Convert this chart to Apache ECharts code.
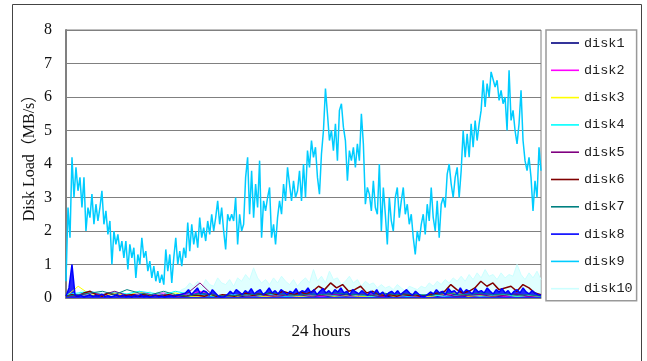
<!DOCTYPE html>
<html>
<head>
<meta charset="utf-8">
<script src="https://cdn.jsdelivr.net/npm/echarts@6/dist/echarts.min.js"></script>
<style>html,body{margin:0;padding:0;background:#fff;}#c{width:647px;height:361px;}</style>
</head>
<body>
<div id="c"></div>
<script>
var seriesNames = ['disk1','disk2','disk3','disk4','disk5','disk6','disk7','disk8','disk9','disk10'];
var yTicks = [0,1,2,3,4,5,6,7,8];

var disk9 = [0.5,2.7,1.8,4.2,3.0,3.9,3.2,3.6,2.7,3.6,2.0,2.7,2.4,3.1,2.2,2.8,2.3,2.7,3.2,2.2,
2.6,1.9,2.3,1.0,2.0,1.6,1.9,1.4,1.7,1.2,1.7,0.85,1.6,1.2,1.5,0.6,1.3,1.0,1.8,1.2,
1.4,0.8,1.1,0.6,0.95,0.5,0.8,0.45,0.7,0.4,1.45,0.8,1.3,0.45,1.2,1.8,1.0,1.4,0.95,1.5,
1.2,2.25,1.4,2.2,1.6,2.0,1.5,2.4,1.8,2.1,1.7,2.3,1.9,2.5,2.0,2.4,2.9,2.2,2.7,2.0,
1.45,2.5,2.3,2.5,2.3,3.0,1.6,2.5,2.0,2.2,3.6,4.2,2.5,3.8,2.4,3.4,2.7,4.1,1.8,2.9,
2.6,3.0,3.3,1.8,2.2,1.6,2.4,2.9,2.5,3.4,2.9,3.9,3.4,2.9,3.5,3.0,3.2,3.8,2.9,4.0,
3.0,4.4,3.9,4.7,4.2,4.5,3.6,3.1,4.3,5.0,6.25,5.5,4.7,5.0,4.4,5.2,4.1,5.6,5.8,5.1,
4.7,3.5,4.4,4.1,4.5,3.9,4.6,4.1,5.5,4.6,2.8,3.3,3.1,2.6,3.5,2.7,2.5,4.0,2.0,3.3,
2.5,1.6,3.0,2.3,2.0,3.0,3.3,2.4,2.9,3.3,2.5,2.8,2.2,2.5,1.8,1.3,2.0,1.7,2.2,2.5,
1.9,2.8,2.3,3.3,2.4,2.0,2.9,1.8,2.8,3.0,2.7,3.7,4.0,3.4,3.0,3.6,3.9,3.0,3.8,5.0,
4.2,4.9,4.2,5.2,4.5,5.3,4.7,5.2,5.6,6.5,5.7,6.4,6.0,6.75,6.8,6.3,6.5,5.9,6.2,5.8,
6.0,5.0,6.8,5.3,5.6,5.0,4.6,5.2,6.2,4.7,4.1,3.8,4.2,3.6,2.6,3.5,3.0,4.5,3.8];

var disk10 = [0.1,0.2,0.15,0.1,0.25,0.15,0.2,0.1,0.15,0.2,0.1,0.15,0.2,0.12,0.18,0.1,0.15,0.2,0.1,0.15,
0.12,0.2,0.1,0.18,0.15,0.22,0.1,0.2,0.15,0.25,
0.3,0.45,0.35,0.5,0.3,0.55,0.4,0.35,0.6,0.45,
0.4,0.55,0.35,0.6,0.5,0.7,0.55,0.9,0.6,0.45,
0.55,0.4,0.6,0.45,0.65,0.5,0.4,0.55,0.35,0.5,
0.6,0.45,0.85,0.5,0.65,0.45,0.8,0.55,0.6,0.4,
0.5,0.65,0.45,0.55,0.35,0.5,0.4,0.45,0.3,0.4,
0.3,0.35,0.25,0.4,0.3,0.2,0.35,0.3,0.25,0.35,
0.3,0.45,0.35,0.5,0.4,0.55,0.45,0.6,0.5,0.65,
0.5,0.7,0.55,0.75,0.6,0.85,0.65,0.7,0.55,0.75,
0.6,0.7,0.65,1.0,0.7,0.55,0.75,0.6,0.8,0.55];

var disk8 = [0.05,0.3,1.0,0.1,0.05,0.08,0.03,0.06,0.1,0.04,
0.08,0.05,0.12,0.04,0.07,0.03,0.06,0.1,0.05,0.08,
0.04,0.06,0.03,0.08,0.05,0.1,0.04,0.06,0.03,0.05,
0.08,0.04,0.06,0.03,0.05,0.07,0.04,0.08,0.1,0.12,
0.15,0.25,0.1,0.2,0.3,0.12,0.22,0.18,0.08,0.25,
0.15,0.05,0.03,0.04,0.1,0.2,0.12,0.25,0.18,0.1,
0.22,0.15,0.28,0.12,0.2,0.25,0.1,0.18,0.3,0.15,
0.22,0.12,0.25,0.18,0.1,0.2,0.15,0.28,0.12,0.22,
0.18,0.3,0.15,0.25,0.1,0.2,0.28,0.15,0.22,0.12,
0.25,0.18,0.3,0.15,0.2,0.1,0.25,0.18,0.12,0.22,
0.15,0.08,0.2,0.12,0.25,0.1,0.18,0.05,0.15,0.2,
0.12,0.22,0.1,0.18,0.25,0.15,0.08,0.2,0.12,0.05,
0.04,0.1,0.18,0.12,0.25,0.15,0.2,0.1,0.28,0.18,
0.22,0.12,0.3,0.15,0.25,0.2,0.12,0.28,0.18,0.22,
0.15,0.3,0.2,0.12,0.25,0.18,0.28,0.15,0.22,0.1,
0.2,0.25,0.15,0.3,0.18,0.12,0.22,0.15,0.1,0.08];

var disk6 = [0.05,0.1,0.05,0.15,0.2,0.1,0.05,0.15,0.1,0.05,0.08,0.1,0.05,0.12,0.05,0.08,0.05,0.1,0.05,0.08,
0.05,0.1,0.08,0.05,0.12,0.05,0.1,0.08,0.05,0.1,0.15,0.08,0.12,0.1,0.15,0.1,0.2,0.15,0.1,0.18,
0.12,0.2,0.35,0.25,0.45,0.3,0.4,0.2,0.25,0.35,0.15,0.2,0.1,0.08,0.1,0.05,0.12,0.08,0.1,0.05,
0.08,0.12,0.15,0.2,0.4,0.25,0.15,0.2,0.3,0.5,0.35,0.45,0.25,0.3,0.35,0.2,0.4,0.3,0.15,0.1];

var disk7 = [0.05,0.1,0.15,0.2,0.1,0.25,0.15,0.1,0.2,0.1,0.05,0.15,0.1,0.05,0.08,0.1,0.12,0.15,0.1,0.08,
0.12,0.1,0.15,0.12,0.1,0.08,0.15,0.1,0.12,0.1,0.08,0.15,0.12,0.1,0.15,0.1,0.12,0.08,0.1,0.05];
var disk5 = [0.05,0.08,0.15,0.1,0.2,0.08,0.12,0.05,0.1,0.08,0.15,0.45,0.1,0.05,0.08,0.05,0.1,0.05,0.08,0.1,
0.05,0.08,0.1,0.05,0.12,0.08,0.05,0.1,0.08,0.05,0.1,0.12,0.05,0.08,0.1,0.05,0.08,0.12,0.05,0.08];
var disk4 = [0.1,0.15,0.2,0.1,0.18,0.12,0.2,0.15,0.1,0.2,0.12,0.1,0.05,0.08,0.1,0.05,0.08,0.1,0.05,0.08,
0.05,0.1,0.08,0.05,0.1,0.05,0.08,0.1,0.05,0.08,0.1,0.05,0.08,0.1,0.05,0.08,0.1,0.05,0.08,0.05];
var disk3 = [0.05,0.35,0.1,0.05,0.15,0.05,0.2,0.05,0.1,0.15,0.05,0.05,0.08,0.05,0.05,0.1,0.05,0.05,0.08,0.05,
0.05,0.1,0.05,0.08,0.05,0.05,0.1,0.05,0.08,0.05,0.05,0.1,0.15,0.05,0.08,0.05,0.1,0.05,0.08,0.05];
var disk2 = [0.05,0.1,0.2,0.08,0.15,0.05,0.2,0.1,0.15,0.05,0.1,0.2,0.08,0.05,0.1,0.05,0.08,0.05,0.1,0.05,
0.08,0.05,0.1,0.05,0.08,0.12,0.05,0.1,0.08,0.05,0.1,0.05,0.15,0.08,0.05,0.1,0.05,0.08,0.05,0.05];
var disk1 = [0.05,0.1,0.08,0.05,0.12,0.08,0.05,0.1,0.05,0.08,0.05,0.1,0.05,0.08,0.05,0.05,0.08,0.05,0.1,0.05,
0.05,0.08,0.05,0.1,0.05,0.08,0.05,0.05,0.1,0.05,0.08,0.05,0.1,0.05,0.05,0.08,0.05,0.1,0.05,0.05];

var colors = ['#000080','#ff00ff','#ffff00','#00ffff','#800080','#800000','#008080','#0000ff','#00ccff','#ccffff'];
var values = [disk1,disk2,disk3,disk4,disk5,disk6,disk7,disk8,disk9,disk10];
var xMax = disk9.length - 1;

function spread(arr){
  var step = xMax / (arr.length - 1);
  return arr.map(function(v,i){ return [i*step, v]; });
}

var series = seriesNames.map(function(n,k){
  var s = {
    name: n, type: 'line', symbol: 'none', showSymbol: false,
    data: spread(values[k]),
    z: n === 'disk10' ? 1 : (n === 'disk9' ? 3 : 2),
    lineStyle: {color: colors[k], width: n === 'disk9' ? 1.5 : (n === 'disk6' || n === 'disk8' ? 1.5 : 1)},
    itemStyle: {color: colors[k]},
    emphasis: {disabled: true},
    silent: true
  };
  if (n === 'disk8') s.areaStyle = {color: colors[k], opacity: 0.85};
  if (n === 'disk10') s.areaStyle = {color: colors[k], opacity: 0.6};
  return s;
});

var chart = echarts.init(document.getElementById('c'), null, {renderer:'canvas'});
chart.setOption({
  animation: false,
  backgroundColor: '#ffffff',
  grid: {left: 66, top: 30, width: 475, height: 268, show: true, borderColor: '#808080', borderWidth: 1, backgroundColor: 'transparent'},
  xAxis: {type: 'value', min: 0, max: xMax, axisLabel: {show: false}, axisTick: {show: false}, splitLine: {show: false},
    axisLine: {show: true, lineStyle: {color: '#808080', width: 1}}},
  yAxis: {type: 'value', min: yTicks[0], max: yTicks[yTicks.length-1], interval: 1,
    axisLabel: {fontFamily: 'Liberation Serif', fontSize: 16, color: '#111', margin: 14},
    axisTick: {show: false},
    axisLine: {show: true, lineStyle: {color: '#808080', width: 2}},
    splitLine: {show: true, lineStyle: {color: '#808080', width: 1}}},
  legend: {
    orient: 'vertical', left: 546, top: 30,
    data: seriesNames,
    icon: 'path://M0,0H28V1.6H0Z',
    itemWidth: 28, itemHeight: 14, itemGap: 13.3,
    padding: [6, 4, 5, 5],
    borderColor: '#999999', borderWidth: 1.5,
    textStyle: {fontFamily: 'Liberation Mono', fontSize: 13.5, color: '#222', lineHeight: 14},
    selectedMode: false
  },
  graphic: [
    {type: 'rect', shape: {x: 12.5, y: 4.5, width: 629, height: 370}, style: {fill: 'none', stroke: '#444', lineWidth: 1}, silent: true},
    {type: 'text', x: 30, y: 154, rotation: Math.PI/2, style: {text: 'Disk Load（MB/s）', fontFamily: 'Liberation Serif, Noto Sans CJK SC', fontSize: 16, fill: '#111', align: 'center', verticalAlign: 'middle'}},
    {type: 'text', x: 321, y: 332, style: {text: '24 hours', fontFamily: 'Liberation Serif', fontSize: 17, fill: '#111', align: 'center', verticalAlign: 'middle'}}
  ],
  series: series
});
</script>
</body>
</html>
